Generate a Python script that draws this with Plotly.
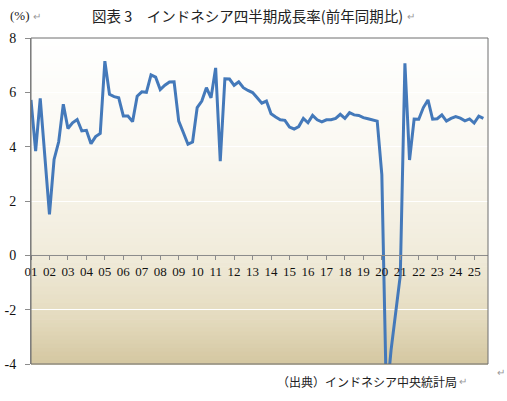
import plotly.graph_objects as go

# Indonesia real GDP growth, y/y, quarterly 2001Q1 - 2025Q3
years = list(range(2001, 2026))
quarters = [f"{y}Q{q}" for y in years for q in range(1, 5)][:99]
growth = [
    5.72, 3.84, 5.78, 3.60,
    1.51, 3.53, 4.18, 5.56,
    4.67, 4.88, 5.00, 4.58,
    4.60, 4.11, 4.37, 4.49,
    7.15, 5.93, 5.84, 5.80,
    5.13, 5.13, 4.92, 5.86,
    6.02, 6.00, 6.64, 6.56,
    6.10, 6.26, 6.38, 6.39,
    4.94, 4.52, 4.09, 4.17,
    5.44, 5.68, 6.17, 5.80,
    6.90, 3.47, 6.50, 6.49,
    6.26, 6.39, 6.17, 6.07,
    5.99, 5.80, 5.60, 5.68,
    5.21, 5.09, 4.99, 4.97,
    4.72, 4.65, 4.74, 5.04,
    4.88, 5.15, 4.99, 4.91,
    4.99, 4.99, 5.04, 5.19,
    5.04, 5.25, 5.17, 5.15,
    5.07, 5.03, 4.98, 4.94,
    2.97, -5.32, -3.49, -2.19,
    -0.74, 7.07, 3.51, 5.02,
    5.01, 5.44, 5.72, 5.01,
    5.03, 5.17, 4.94, 5.04,
    5.11, 5.05, 4.95, 5.02,
    4.87, 5.12, 5.04,
]
year_ticks = [f"{y}Q1" for y in years]
year_labels = [f"{y % 100:02d}" for y in years]
y_ticks = [-4, -2, 0, 2, 4, 6, 8]
y_labels = ["-4", "-2", "0", "2", "4", "6", "8"]

W, H = 507, 401
L, R, T, B = 31, 488, 38, 364
SERIF = "Liberation Serif, 'Noto Sans CJK JP', serif"
JP = "'Noto Sans CJK JP', sans-serif"


def px(x):
    return (x - L) / (R - L)


def py(y):
    return (B - y) / (B - T)


def bg_color(t):
    stops = [(0.0, (255, 255, 255)), (0.35, (250, 248, 241)), (0.65, (241, 236, 220)),
             (0.85, (229, 220, 192)), (1.0, (212, 199, 161))]
    for (t0, c0), (t1, c1) in zip(stops, stops[1:]):
        if t <= t1:
            f = (t - t0) / (t1 - t0)
            return "rgb(%d,%d,%d)" % tuple(round(a + (b - a) * f) for a, b in zip(c0, c1))
    return "rgb(%d,%d,%d)" % stops[-1][1]


fig = go.Figure()
fig.add_trace(go.Scatter(
    x=quarters, y=growth, mode="lines",
    line=dict(color="#4479ba", width=3),
    hoverinfo="skip", showlegend=False,
))

# vertical gradient background made of thin bands
n = 80
shapes = []
for k in range(n):
    t = (k + 0.5) / n
    shapes.append(dict(
        type="rect", xref="paper", yref="paper", layer="below",
        x0=0, x1=1, y0=1 - (k + 1) / n - 0.002, y1=1 - k / n,
        fillcolor=bg_color(t), line=dict(width=0),
    ))
shapes.append(dict(type="rect", xref="paper", yref="paper", x0=0, x1=1, y0=0, y1=1,
                   line=dict(color="#6e6e6e", width=1), layer="above"))

annotations = [
    dict(text="図表 3　インドネシア四半期成長率(前年同期比)", x=px(247), y=py(16),
         font=dict(size=14.5, family=JP, color="#222")),
    dict(text="(%)", x=px(20), y=py(16), font=dict(size=13, family=SERIF, color="#222")),
    dict(text="（出典）インドネシア中央統計局", x=px(367), y=py(381),
         font=dict(size=12, family=JP, color="#222")),
]
for mx, my in [(37, 17), (411, 17), (463, 382), (501, 372)]:
    annotations.append(dict(text="↵", x=px(mx), y=py(my), font=dict(size=10, color="#999")))
for a in annotations:
    a.update(xref="paper", yref="paper", showarrow=False, xanchor="center", yanchor="middle")

fig.update_layout(
    width=W, height=H,
    margin=dict(l=L, r=W - R, t=T, b=H - B, pad=0),
    paper_bgcolor="white", plot_bgcolor="rgba(0,0,0,0)",
    shapes=shapes, annotations=annotations,
    font=dict(family=SERIF, size=14, color="#111"),
)
fig.update_xaxes(
    type="category", range=[0, 99], automargin=False,
    anchor="free", position=1 / 3,
    tickvals=year_ticks, ticktext=year_labels,
    ticks="outside", ticklen=4, tickcolor="#8c8c8c",
    tickfont=dict(size=13, family=SERIF, color="#111"),
    showline=True, linecolor="#8c8c8c", linewidth=1,
    showgrid=False, zeroline=False,
)
fig.update_yaxes(
    range=[-4, 8], tickvals=y_ticks, ticktext=y_labels, automargin=False,
    ticks="outside", ticklen=5, tickcolor="#8c8c8c", ticklabelstandoff=6,
    tickfont=dict(size=14, family=SERIF, color="#111"),
    showline=True, linecolor="#8c8c8c", linewidth=1,
    showgrid=True, gridcolor="white", gridwidth=1, zeroline=False,
)

fig.write_html("out.html", config={"displayModeBar": False},
               post_script="document.body.style.margin = '0';")
